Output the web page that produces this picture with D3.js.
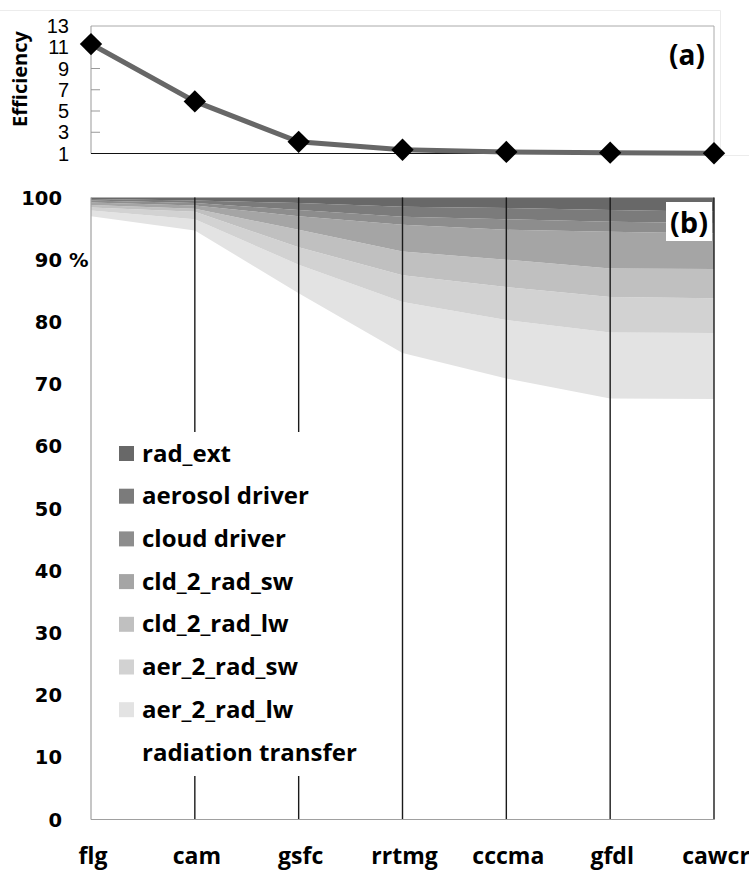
<!DOCTYPE html>
<html>
<head>
<meta charset="utf-8">
<script src="https://cdn.jsdelivr.net/npm/d3@7"></script>
<style>
  body { margin: 0; background: #fff; }
  svg { display: block; }
</style>
</head>
<body>
<svg width="749" height="871"></svg>
<script>
// models along the x axis
var models = ["flg", "cam", "gsfc", "rrtmg", "cccma", "gfdl", "cawcr"];

// panel (a)
var efficiency = [11.3, 5.9, 2.1, 1.35, 1.15, 1.08, 1.02];
var effTicks = [1, 3, 5, 7, 9, 11, 13];

// panel (b), percent of time, stacked bottom -> top
var radiationTransfer = [97.0, 94.7, 84.6, 75.0, 70.9, 67.7, 67.6];
var aer2RadLw = [0.9, 1.8, 4.6, 8.2, 9.4, 10.6, 10.6];
var aer2RadSw = [0.5, 1.2, 2.8, 4.3, 5.3, 5.7, 5.6];
var cld2RadLw = [0.4, 0.5, 2.8, 3.8, 4.4, 4.6, 4.7];
var cld2RadSw = [0.4, 0.5, 2.2, 4.3, 4.8, 5.9, 5.7];
var cloudDriver = [0.3, 0.4, 1.0, 1.3, 1.7, 1.6, 1.7];
var aerosolDriver = [0.25, 0.4, 1.1, 1.6, 1.8, 1.9, 1.8];
var radExt = [0.25, 0.5, 0.9, 1.5, 1.7, 2.0, 2.3];

var seriesNames = ["radiation transfer", "aer_2_rad_lw", "aer_2_rad_sw", "cld_2_rad_lw",
                   "cld_2_rad_sw", "cloud driver", "aerosol driver", "rad_ext"];
var seriesValues = [radiationTransfer, aer2RadLw, aer2RadSw, cld2RadLw,
                    cld2RadSw, cloudDriver, aerosolDriver, radExt];
var percentTicks = [0, 10, 20, 30, 40, 50, 60, 70, 80, 90, 100];

var colors = ["#ffffff", "#e3e3e3", "#d2d2d2", "#c0c0c0", "#a5a5a5", "#8d8d8d", "#7b7b7b", "#686868"];

var svg = d3.select("svg");

var x = d3.scalePoint().domain(models).range([91, 714]);

// ---------- panel (a) ----------
var yA = d3.scaleLinear().domain([1, 13]).range([153.5, 26]);

// faint frame of the pasted panel
svg.append("path")
    .attr("d", "M0,10.5H720.5V155.5H749")
    .attr("fill", "none")
    .attr("stroke", "#ececec");

svg.append("line").attr("x1", 91).attr("x2", 714).attr("y1", 26).attr("y2", 26)
    .attr("stroke", "#aaa");
svg.append("line").attr("x1", 714).attr("x2", 714).attr("y1", 26).attr("y2", 153.5)
    .attr("stroke", "#aaa");
svg.append("line").attr("x1", 91).attr("x2", 91).attr("y1", 26).attr("y2", 153.5)
    .attr("stroke", "#999");
svg.append("line").attr("x1", 91).attr("x2", 714).attr("y1", 153.5).attr("y2", 153.5)
    .attr("stroke", "#111").attr("stroke-width", 1.2);

svg.selectAll(".effTick")
    .data(effTicks.slice(1, -1))
    .enter().append("line")
    .attr("x1", 91).attr("x2", 100)
    .attr("y1", function(d) { return yA(d); })
    .attr("y2", function(d) { return yA(d); })
    .attr("stroke", "#999");

svg.selectAll(".effLabel")
    .data(effTicks)
    .enter().append("text")
    .attr("x", 69)
    .attr("y", function(d) { return yA(d); })
    .attr("dy", "0.36em")
    .attr("text-anchor", "end")
    .style("font-family", "Liberation Sans, Arial, sans-serif")
    .style("font-size", "20px")
    .text(function(d) { return d; });

svg.append("text")
    .attr("transform", "translate(27,79) rotate(-90)")
    .attr("text-anchor", "middle")
    .style("font-family", "Open Sans, sans-serif")
    .style("font-weight", "700")
    .style("font-size", "20px")
    .text("Efficiency");

var line = d3.line()
    .x(function(d, i) { return x(models[i]); })
    .y(function(d) { return yA(d); });

svg.append("path")
    .datum(efficiency)
    .attr("d", line)
    .attr("fill", "none")
    .attr("stroke", "#676767")
    .attr("stroke-width", 5);

svg.selectAll(".marker")
    .data(efficiency)
    .enter().append("path")
    .attr("d", d3.symbol().type(d3.symbolSquare).size(250))
    .attr("transform", function(d, i) {
        return "translate(" + x(models[i]) + "," + yA(d) + ") rotate(45)";
    })
    .attr("fill", "#000");

svg.append("text")
    .attr("x", 687).attr("y", 65)
    .attr("text-anchor", "middle")
    .style("font-family", "Open Sans, sans-serif")
    .style("font-weight", "700")
    .style("font-size", "28px")
    .text("(a)");

// ---------- panel (b) ----------
var yB = d3.scaleLinear().domain([0, 100]).range([819.5, 197.5]);

var table = models.map(function(m, i) {
    var row = { model: m };
    seriesNames.forEach(function(s, k) { row[s] = seriesValues[k][i]; });
    return row;
});

var stack = d3.stack().keys(seriesNames);
var layers = stack(table);

var area = d3.area()
    .x(function(d) { return x(d.data.model); })
    .y0(function(d) { return yB(d[0]); })
    .y1(function(d) { return yB(d[1]); });

svg.selectAll(".layer")
    .data(layers)
    .enter().append("path")
    .attr("class", "layer")
    .attr("d", area)
    .attr("fill", function(d, i) { return colors[i]; });

// vertical grid lines at each model
svg.selectAll(".vline")
    .data(models.slice(1))
    .enter().append("line")
    .attr("x1", function(d) { return x(d); })
    .attr("x2", function(d) { return x(d); })
    .attr("y1", yB(100)).attr("y2", yB(0))
    .attr("stroke", "#1a1a1a")
    .attr("stroke-width", 1.4);

svg.append("line").attr("x1", 91).attr("x2", 91).attr("y1", yB(100)).attr("y2", yB(0))
    .attr("stroke", "#a0a0a0").attr("stroke-width", 1.2);
svg.append("line").attr("x1", 91).attr("x2", 714).attr("y1", yB(0)).attr("y2", yB(0))
    .attr("stroke", "#a0a0a0").attr("stroke-width", 1.2);

svg.selectAll(".pctLabel")
    .data(percentTicks)
    .enter().append("text")
    .attr("x", 62)
    .attr("y", function(d) { return yB(d); })
    .attr("dy", "0.36em")
    .attr("text-anchor", "end")
    .style("font-family", "DejaVu Sans, Verdana, sans-serif")
    .style("font-weight", "700")
    .style("font-size", "19.5px")
    .text(function(d) { return d; });

svg.append("text")
    .attr("x", 69).attr("y", yB(90))
    .attr("dy", "0.36em")
    .style("font-family", "DejaVu Sans, Verdana, sans-serif")
    .style("font-weight", "700")
    .style("font-size", "19.5px")
    .text("%");

svg.selectAll(".modelLabel")
    .data(models)
    .enter().append("text")
    .attr("x", function(d) { return x(d) + 2; })
    .attr("y", 864)
    .attr("text-anchor", "middle")
    .style("font-family", "Open Sans, sans-serif")
    .style("font-weight", "700")
    .style("font-size", "23px")
    .text(function(d) { return d; });

// (b) tag
svg.append("rect")
    .attr("x", 666).attr("y", 202).attr("width", 46).attr("height", 39)
    .attr("fill", "#fff");
svg.append("text")
    .attr("x", 689).attr("y", 233)
    .attr("text-anchor", "middle")
    .style("font-family", "Open Sans, sans-serif")
    .style("font-weight", "700")
    .style("font-size", "29px")
    .text("(b)");

// legend
var legendNames = seriesNames.slice(1).reverse().concat([seriesNames[0]]);
var legendColors = colors.slice(1).reverse().concat([colors[0]]);

svg.append("rect")
    .attr("x", 105).attr("y", 432).attr("width", 287).attr("height", 344)
    .attr("fill", "#fff");

var legend = svg.selectAll(".legend")
    .data(legendNames)
    .enter().append("g")
    .attr("transform", function(d, i) { return "translate(119," + (453 + i * 42.7) + ")"; });

legend.append("rect")
    .attr("x", 0).attr("y", -7).attr("width", 15).attr("height", 15)
    .attr("fill", function(d, i) { return legendColors[i]; });

legend.append("text")
    .attr("x", 23)
    .attr("dy", "0.36em")
    .style("font-family", "Open Sans, sans-serif")
    .style("font-weight", "700")
    .style("font-size", "24px")
    .text(function(d) { return d; });
</script>
</body>
</html>
